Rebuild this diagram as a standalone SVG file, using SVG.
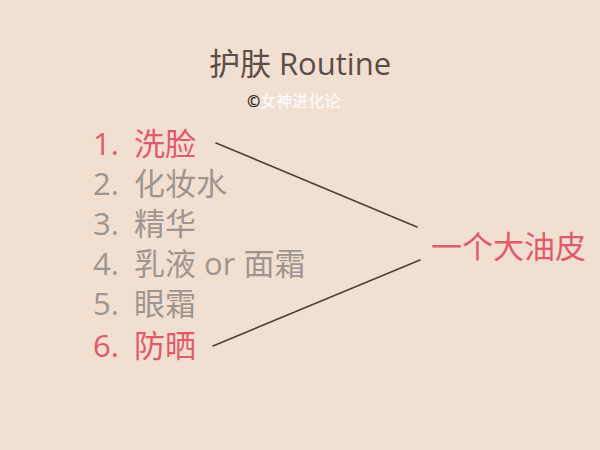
<svg xmlns="http://www.w3.org/2000/svg" width="600" height="450" viewBox="0 0 600 450">
<style>
text{font-family:"Open Sans","Noto Sans CJK SC","Noto Sans",sans-serif}
.title{font-size:31px;fill:#5B4C47}
.copy{font-size:16px;fill:#FFFFFF}
.item{font-size:31px}
.red{fill:#E05A6A}
.gray{fill:#A0958E}
.conn{stroke:#4A3F3B;stroke-width:1.6;fill:none;stroke-linecap:round}
</style>
<rect width="600" height="450" fill="#F1E0D2"/>
<g id="title"><text class="title" x="300" y="75" text-anchor="middle">护肤 Routine</text></g>
<g id="copyright"><text class="copy" x="247" y="107"><tspan fill="#2E2522" font-weight="bold">©</tspan>女神进化论</text></g>
<g id="item1"><text class="item red" y="155"><tspan x="93">1.</tspan><tspan x="134">洗脸</tspan></text></g>
<g id="item2"><text class="item gray" y="195"><tspan x="93">2.</tspan><tspan x="134">化妆水</tspan></text></g>
<g id="item3"><text class="item gray" y="235"><tspan x="93">3.</tspan><tspan x="134">精华</tspan></text></g>
<g id="item4"><text class="item gray" y="275"><tspan x="93">4.</tspan><tspan x="134">乳液 or 面霜</tspan></text></g>
<g id="item5"><text class="item gray" y="315"><tspan x="93">5.</tspan><tspan x="134">眼霜</tspan></text></g>
<g id="item6"><text class="item red" y="357"><tspan x="93">6.</tspan><tspan x="134">防晒</tspan></text></g>
<g id="result"><text class="item red" x="431" y="258">一个大油皮</text></g>
<g id="connectors">
<line class="conn" x1="216" y1="143" x2="417" y2="227"/>
<line class="conn" x1="213" y1="346" x2="420" y2="260"/>
</g>
</svg>
